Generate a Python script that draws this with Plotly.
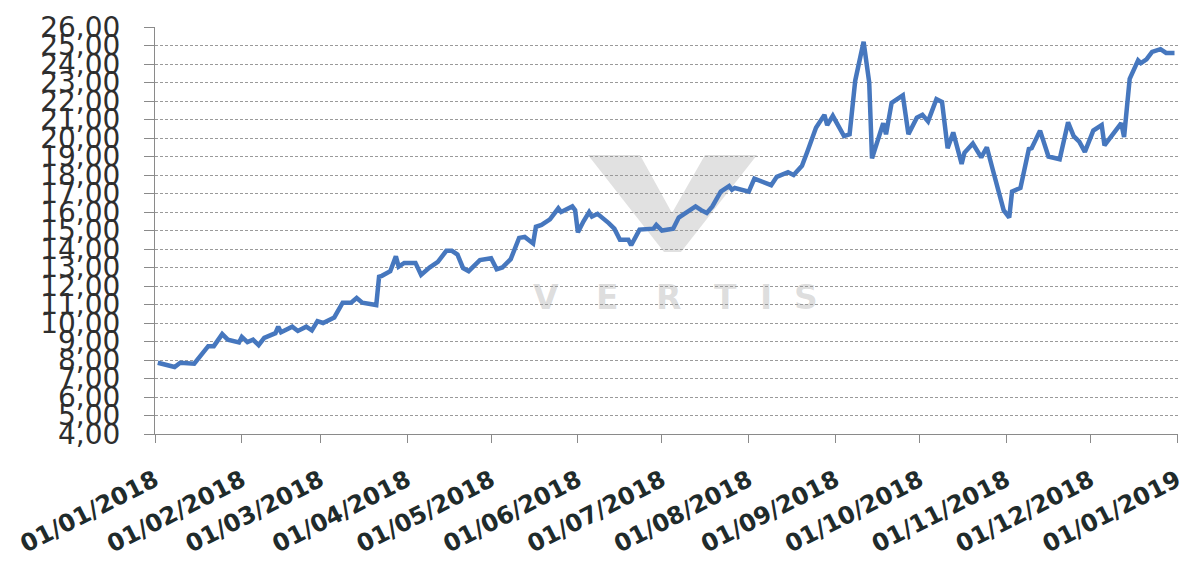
import plotly.graph_objects as go

dates = [
    "2018-01-02", "2018-01-08", "2018-01-10", "2018-01-15", "2018-01-20", "2018-01-22",
    "2018-01-25", "2018-01-27", "2018-01-31", "2018-02-01", "2018-02-03", "2018-02-05",
    "2018-02-07", "2018-02-09", "2018-02-13", "2018-02-14", "2018-02-15", "2018-02-19",
    "2018-02-21", "2018-02-24", "2018-02-26", "2018-02-28", "2018-03-02", "2018-03-06",
    "2018-03-09", "2018-03-12", "2018-03-14", "2018-03-16", "2018-03-21", "2018-03-22",
    "2018-03-23", "2018-03-26", "2018-03-28", "2018-03-29", "2018-03-31", "2018-04-04",
    "2018-04-06", "2018-04-09", "2018-04-12", "2018-04-15", "2018-04-17", "2018-04-19",
    "2018-04-21", "2018-04-23", "2018-04-27", "2018-05-01", "2018-05-03", "2018-05-05",
    "2018-05-08", "2018-05-11", "2018-05-13", "2018-05-16", "2018-05-17", "2018-05-19",
    "2018-05-22", "2018-05-25", "2018-05-26", "2018-05-30", "2018-05-31", "2018-06-01",
    "2018-06-03", "2018-06-05", "2018-06-06", "2018-06-08", "2018-06-12", "2018-06-14",
    "2018-06-16", "2018-06-19", "2018-06-20", "2018-06-23", "2018-06-28", "2018-06-29",
    "2018-07-01", "2018-07-05", "2018-07-07", "2018-07-10", "2018-07-13", "2018-07-15",
    "2018-07-17", "2018-07-19", "2018-07-22", "2018-07-25", "2018-07-26", "2018-07-27",
    "2018-08-01", "2018-08-03", "2018-08-09", "2018-08-11", "2018-08-15", "2018-08-17",
    "2018-08-20", "2018-08-22", "2018-08-25", "2018-08-28", "2018-08-29", "2018-08-31",
    "2018-09-04", "2018-09-06", "2018-09-08", "2018-09-11", "2018-09-13", "2018-09-14",
    "2018-09-16", "2018-09-18", "2018-09-19", "2018-09-21", "2018-09-25", "2018-09-27",
    "2018-09-30", "2018-10-02", "2018-10-04", "2018-10-07", "2018-10-09", "2018-10-11",
    "2018-10-13", "2018-10-16", "2018-10-17", "2018-10-20", "2018-10-23", "2018-10-25",
    "2018-10-27", "2018-10-31", "2018-11-02", "2018-11-03", "2018-11-06", "2018-11-09",
    "2018-11-10", "2018-11-13", "2018-11-16", "2018-11-20", "2018-11-23", "2018-11-25",
    "2018-11-27", "2018-11-29", "2018-12-02", "2018-12-05", "2018-12-06", "2018-12-09",
    "2018-12-12", "2018-12-13", "2018-12-15", "2018-12-18", "2018-12-19", "2018-12-21",
    "2018-12-23", "2018-12-26", "2018-12-28", "2018-12-31",
]

prices = [
    7.85, 7.62, 7.85, 7.80, 8.75, 8.75,
    9.40, 9.10, 8.95, 9.25, 8.97, 9.10,
    8.80, 9.20, 9.45, 9.80, 9.50, 9.80,
    9.57, 9.80, 9.60, 10.10, 10.00, 10.30,
    11.10, 11.10, 11.35, 11.10, 10.97, 12.50,
    12.55, 12.80, 13.60, 13.05, 13.25, 13.25,
    12.60, 13.00, 13.30, 13.90, 13.90, 13.70,
    12.97, 12.80, 13.40, 13.50, 12.90, 13.00,
    13.45, 14.60, 14.65, 14.30, 15.20, 15.30,
    15.60, 16.20, 16.00, 16.30, 16.10, 14.90,
    15.50, 16.00, 15.75, 15.90, 15.40, 15.10,
    14.50, 14.50, 14.20, 15.05, 15.10, 15.30,
    15.00, 15.10, 15.70, 16.00, 16.30, 16.10,
    15.95, 16.30, 17.10, 17.40, 17.20, 17.30,
    17.10, 17.80, 17.45, 17.90, 18.15, 18.00,
    18.50, 19.30, 20.55, 21.25, 20.70, 21.20,
    20.10, 20.20, 23.10, 25.20, 23.00, 18.90,
    19.85, 20.80, 20.20, 21.90, 22.30, 20.20,
    21.10, 21.25, 20.90, 22.10, 21.95, 19.45,
    20.30, 18.60, 19.20, 19.70, 18.95, 19.50,
    18.35, 16.10, 15.70, 17.10, 17.30, 19.40,
    19.45, 20.40, 19.00, 18.85, 20.85, 20.10,
    19.80, 19.25, 20.40, 20.70, 19.60, 20.25,
    20.80, 20.05, 23.20, 24.20, 24.05, 24.25,
    24.65, 24.80, 24.60, 24.60,
]

tick_dates = ["2018-%02d-01" % m for m in range(1, 13)] + ["2019-01-01"]
tick_labels = ["01/%02d/2018" % m for m in range(1, 13)] + ["01/01/2019"]
y_ticks = list(range(4, 27))

W, H = 1187, 563
L, R, T, B = 155, 9, 27, 129
pw, ph = W - L - R, H - T - B


def px(x):
    return (x - L) / pw


def py(y):
    return (H - B - y) / ph


fig = go.Figure()
fig.add_trace(go.Scatter(
    x=dates, y=prices, mode="lines",
    line=dict(color="#4677BE", width=4.5),
    showlegend=False, hoverinfo="skip",
))

# watermark V
vpts = [(588, 155), (640, 155), (672, 213), (705, 155), (757, 155), (681, 252), (664, 252)]
path = "M " + " L ".join("%f,%f" % (px(a), py(b)) for a, b in vpts) + " Z"
fig.add_shape(type="path", path=path, xref="paper", yref="paper",
              fillcolor="rgba(120,120,120,0.22)", line=dict(width=0), layer="below")

letters = ["V", "E", "R", "T", "I", "S"]
letter_x = [546, 607, 668, 725, 766, 806]
for ch, lx in zip(letters, letter_x):
    fig.add_annotation(x=px(lx), y=py(297), xref="paper", yref="paper", text=ch,
                       showarrow=False,
                       font=dict(family="DejaVu Sans", size=33, weight="bold",
                                 color="rgba(150,150,150,0.33)"))

fig.update_layout(
    width=W, height=H,
    margin=dict(l=L, r=R, t=T, b=B),
    paper_bgcolor="white", plot_bgcolor="white",
    separators=",.",
)
fig.update_xaxes(
    range=["2018-01-01", "2019-01-01 06:00"],
    tickvals=tick_dates, ticktext=tick_labels, tickangle=-27,
    tickfont=dict(family="DejaVu Sans", size=24, color="#1f2b2b", weight="bold"),
    showgrid=False, showline=True, linecolor="#8a8a8a", linewidth=1,
    ticks="outside", ticklen=8, tickcolor="#8a8a8a", zeroline=False,
    ticklabelstandoff=14, automargin=False, ticklabeloverflow="allow",
)
fig.update_yaxes(
    range=[4, 26], tickvals=y_ticks, tickformat=".2f",
    tickfont=dict(family="DejaVu Sans", size=28, color="#2e2e2e"),
    showgrid=True, gridcolor="#9a9a9a", gridwidth=1, griddash="3px,2px",
    showline=True, linecolor="#8a8a8a", linewidth=1,
    ticks="outside", ticklen=10, tickcolor="#8a8a8a", zeroline=False,
    ticklabelstandoff=18, automargin=False,
)

fig.write_html("out.html", config={"displayModeBar": False},
               post_script="document.body.style.margin='0';")
